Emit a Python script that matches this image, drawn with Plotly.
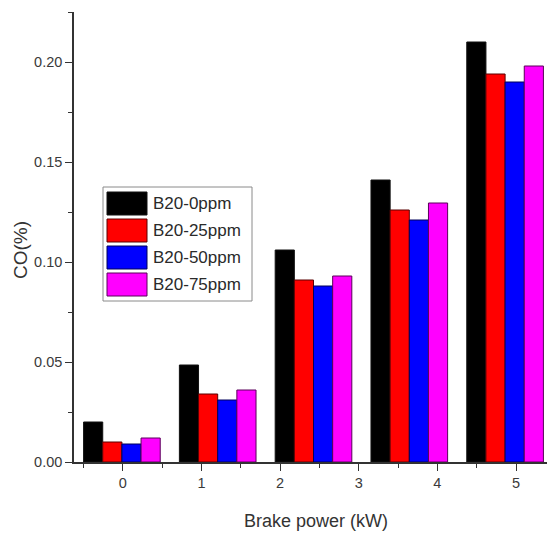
import plotly.graph_objects as go

# ---- data ----
groups = ["G1", "G2", "G3", "G4", "G5"]
series_names = ["B20-0ppm", "B20-25ppm", "B20-50ppm", "B20-75ppm"]
b20_0ppm = [0.020, 0.0485, 0.106, 0.141, 0.210]
b20_25ppm = [0.010, 0.034, 0.091, 0.126, 0.194]
b20_50ppm = [0.009, 0.031, 0.088, 0.121, 0.190]
b20_75ppm = [0.012, 0.036, 0.093, 0.1295, 0.198]
x_tick_labels = ["0", "1", "2", "3", "4", "5"]
x_title = "Brake power (kW)"
y_title = "CO(%)"

series_values = [b20_0ppm, b20_25ppm, b20_50ppm, b20_75ppm]
colors = ["#000000", "#ff0000", "#0000ff", "#ff00ff"]
edge_colors = ["#111111", "#5a0000", "#00005a", "#5a005a"]

# page body has an 8px default margin
OFF = 8
W, H = 555 - OFF, 535 - OFF
# desired plot area in window pixels: x 74..553, y 12..462
PL, PR, PT, PB = 74, 553, 12, 462
L, T = PL - OFF, PT - OFF
R = (OFF + W) - PR
B = (OFF + H) - PB
PW, PH = PR - PL, PB - PT


def px(xp):
    return (xp - PL) / PW


def py(yp):
    return (PB - yp) / PH


fig = go.Figure()
for name, vals, c, ec in zip(series_names, series_values, colors, edge_colors):
    fig.add_trace(go.Bar(
        x=groups, y=vals, name=name, marker_color=c,
        marker_line=dict(color=ec, width=1), showlegend=False,
        xaxis="x", yaxis="y",
    ))

tick_vals = [float(t) for t in x_tick_labels]
fig.add_trace(go.Scatter(x=tick_vals, y=[0] * len(tick_vals), mode="markers",
                         marker=dict(opacity=0), showlegend=False,
                         hoverinfo="skip", xaxis="x2", yaxis="y"))

FONT = "Liberation Sans, Arial, sans-serif"
axis_color = "#333333"
tick_font = dict(family=FONT, size=14.5, color="#3a3a3a")

fig.update_layout(
    width=W, height=H,
    margin=dict(l=L, r=R, t=T, b=B),
    paper_bgcolor="white", plot_bgcolor="white",
    barmode="group", bargap=0.2, bargroupgap=0.0,
    xaxis=dict(type="category", range=[-0.5, 4.5], showticklabels=False,
               showline=False, showgrid=False, zeroline=False, ticks=""),
    xaxis2=dict(overlaying="x", anchor="y", side="bottom",
                range=[-0.62, 5.47], tickmode="array",
                tickvals=tick_vals, ticktext=x_tick_labels,
                ticks="outside", ticklen=7, tickwidth=1.2, tickcolor=axis_color,
                minor=dict(dtick=0.5, ticks="outside", ticklen=4, tickcolor=axis_color, tick0=0.5),
                showline=True, linecolor=axis_color, linewidth=1.5,
                showgrid=False, zeroline=False, tickfont=tick_font),
    yaxis=dict(range=[0, 0.225], dtick=0.05, tick0=0, tickformat=".2f",
               ticks="outside", ticklen=7, tickwidth=1.2, tickcolor=axis_color,
               minor=dict(dtick=0.025, ticks="outside", ticklen=4, tickcolor=axis_color),
               showline=True, linecolor=axis_color, linewidth=1.5,
               showgrid=False, zeroline=False, tickfont=tick_font),
    font=dict(family=FONT),
)

# axis titles
fig.add_annotation(text=y_title, xref="paper", yref="paper", x=px(20), y=py(250),
                   xanchor="center", yanchor="middle",
                   textangle=-90, showarrow=False,
                   font=dict(family=FONT, size=19, color="#333333"))
fig.add_annotation(text=x_title, xref="paper", yref="paper", x=px(316), y=py(521),
                   xanchor="center", yanchor="middle",
                   showarrow=False, font=dict(family=FONT, size=18, color="#333333"))

# custom legend with wide swatches
fig.add_shape(type="rect", xref="paper", yref="paper",
              x0=px(103), x1=px(252), y0=py(301), y1=py(187),
              line=dict(color="#8a8a8a", width=1), fillcolor="white", layer="above")
row_top = 192
row_step = 27
for i, (name, c, ec) in enumerate(zip(series_names, colors, edge_colors)):
    y0 = row_top + i * row_step
    fig.add_shape(type="rect", xref="paper", yref="paper",
                  x0=px(107), x1=px(147), y0=py(y0 + 23), y1=py(y0),
                  line=dict(color=ec, width=1), fillcolor=c, layer="above")
    fig.add_annotation(text=name, xref="paper", yref="paper",
                       x=px(151), y=py(y0 + 11.5), xanchor="left", yanchor="middle",
                       showarrow=False, font=dict(family=FONT, size=17, color="#2a2a2a"))

fig.write_html("out.html")
